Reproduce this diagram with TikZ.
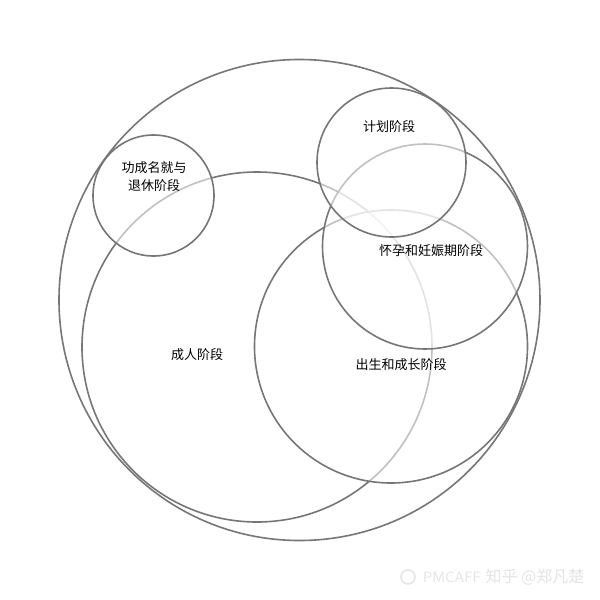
\documentclass[tikz,border=0pt]{standalone}
\usepackage{fontspec}
\newfontfamily\cjk{Noto Sans CJK SC}
\definecolor{ring}{RGB}{118,118,118}
\definecolor{wm}{RGB}{228,228,228}
\tikzset{
  stage/.style={draw=ring, line width=1.6pt, fill=white, fill opacity=0.55, draw opacity=1},
  lbl/.style={font=\cjk\fontsize{13}{18}\selectfont, text=black, align=center, inner sep=0pt},
  wmark/.style={font=\fontsize{15}{18}\selectfont, text=wm, inner sep=0pt}
}
\begin{document}
\begin{tikzpicture}[x=1pt,y=-1pt]
\useasboundingbox (0,0) rectangle (600,600);
\fill[white] (0,0) rectangle (600,600);
\draw[stage] (299.5,300) circle[radius=240.5];
\draw[stage] (257,347) circle[radius=175];
\draw[stage] (391,346.5) circle[radius=136.5];
\draw[stage] (425,246.5) circle[radius=102.5];
\draw[stage] (391.5,162.5) circle[radius=74.5];
\draw[stage] (153.5,195.5) circle[radius=60.5];
\node[lbl] (retire) at (154,177) {功成名就与\\退休阶段};
\node[lbl] (plan) at (389,127) {计划阶段};
\node[lbl] (preg) at (431,251) {怀孕和妊娠期阶段};
\node[lbl] (adult) at (197,355) {成人阶段};
\node[lbl] (birth) at (401,365) {出生和成长阶段};
\draw[wm, line width=1.5pt] (408,577) circle[radius=7];
\node[wmark, font=\sffamily\fontsize{15}{18}\selectfont] (pm) at (452,577) {PMCAFF};
\node[wmark, font=\cjk\fontsize{16}{18}\selectfont] (zh) at (535,577) {知乎 @郑凡楚};
\end{tikzpicture}
\end{document}
